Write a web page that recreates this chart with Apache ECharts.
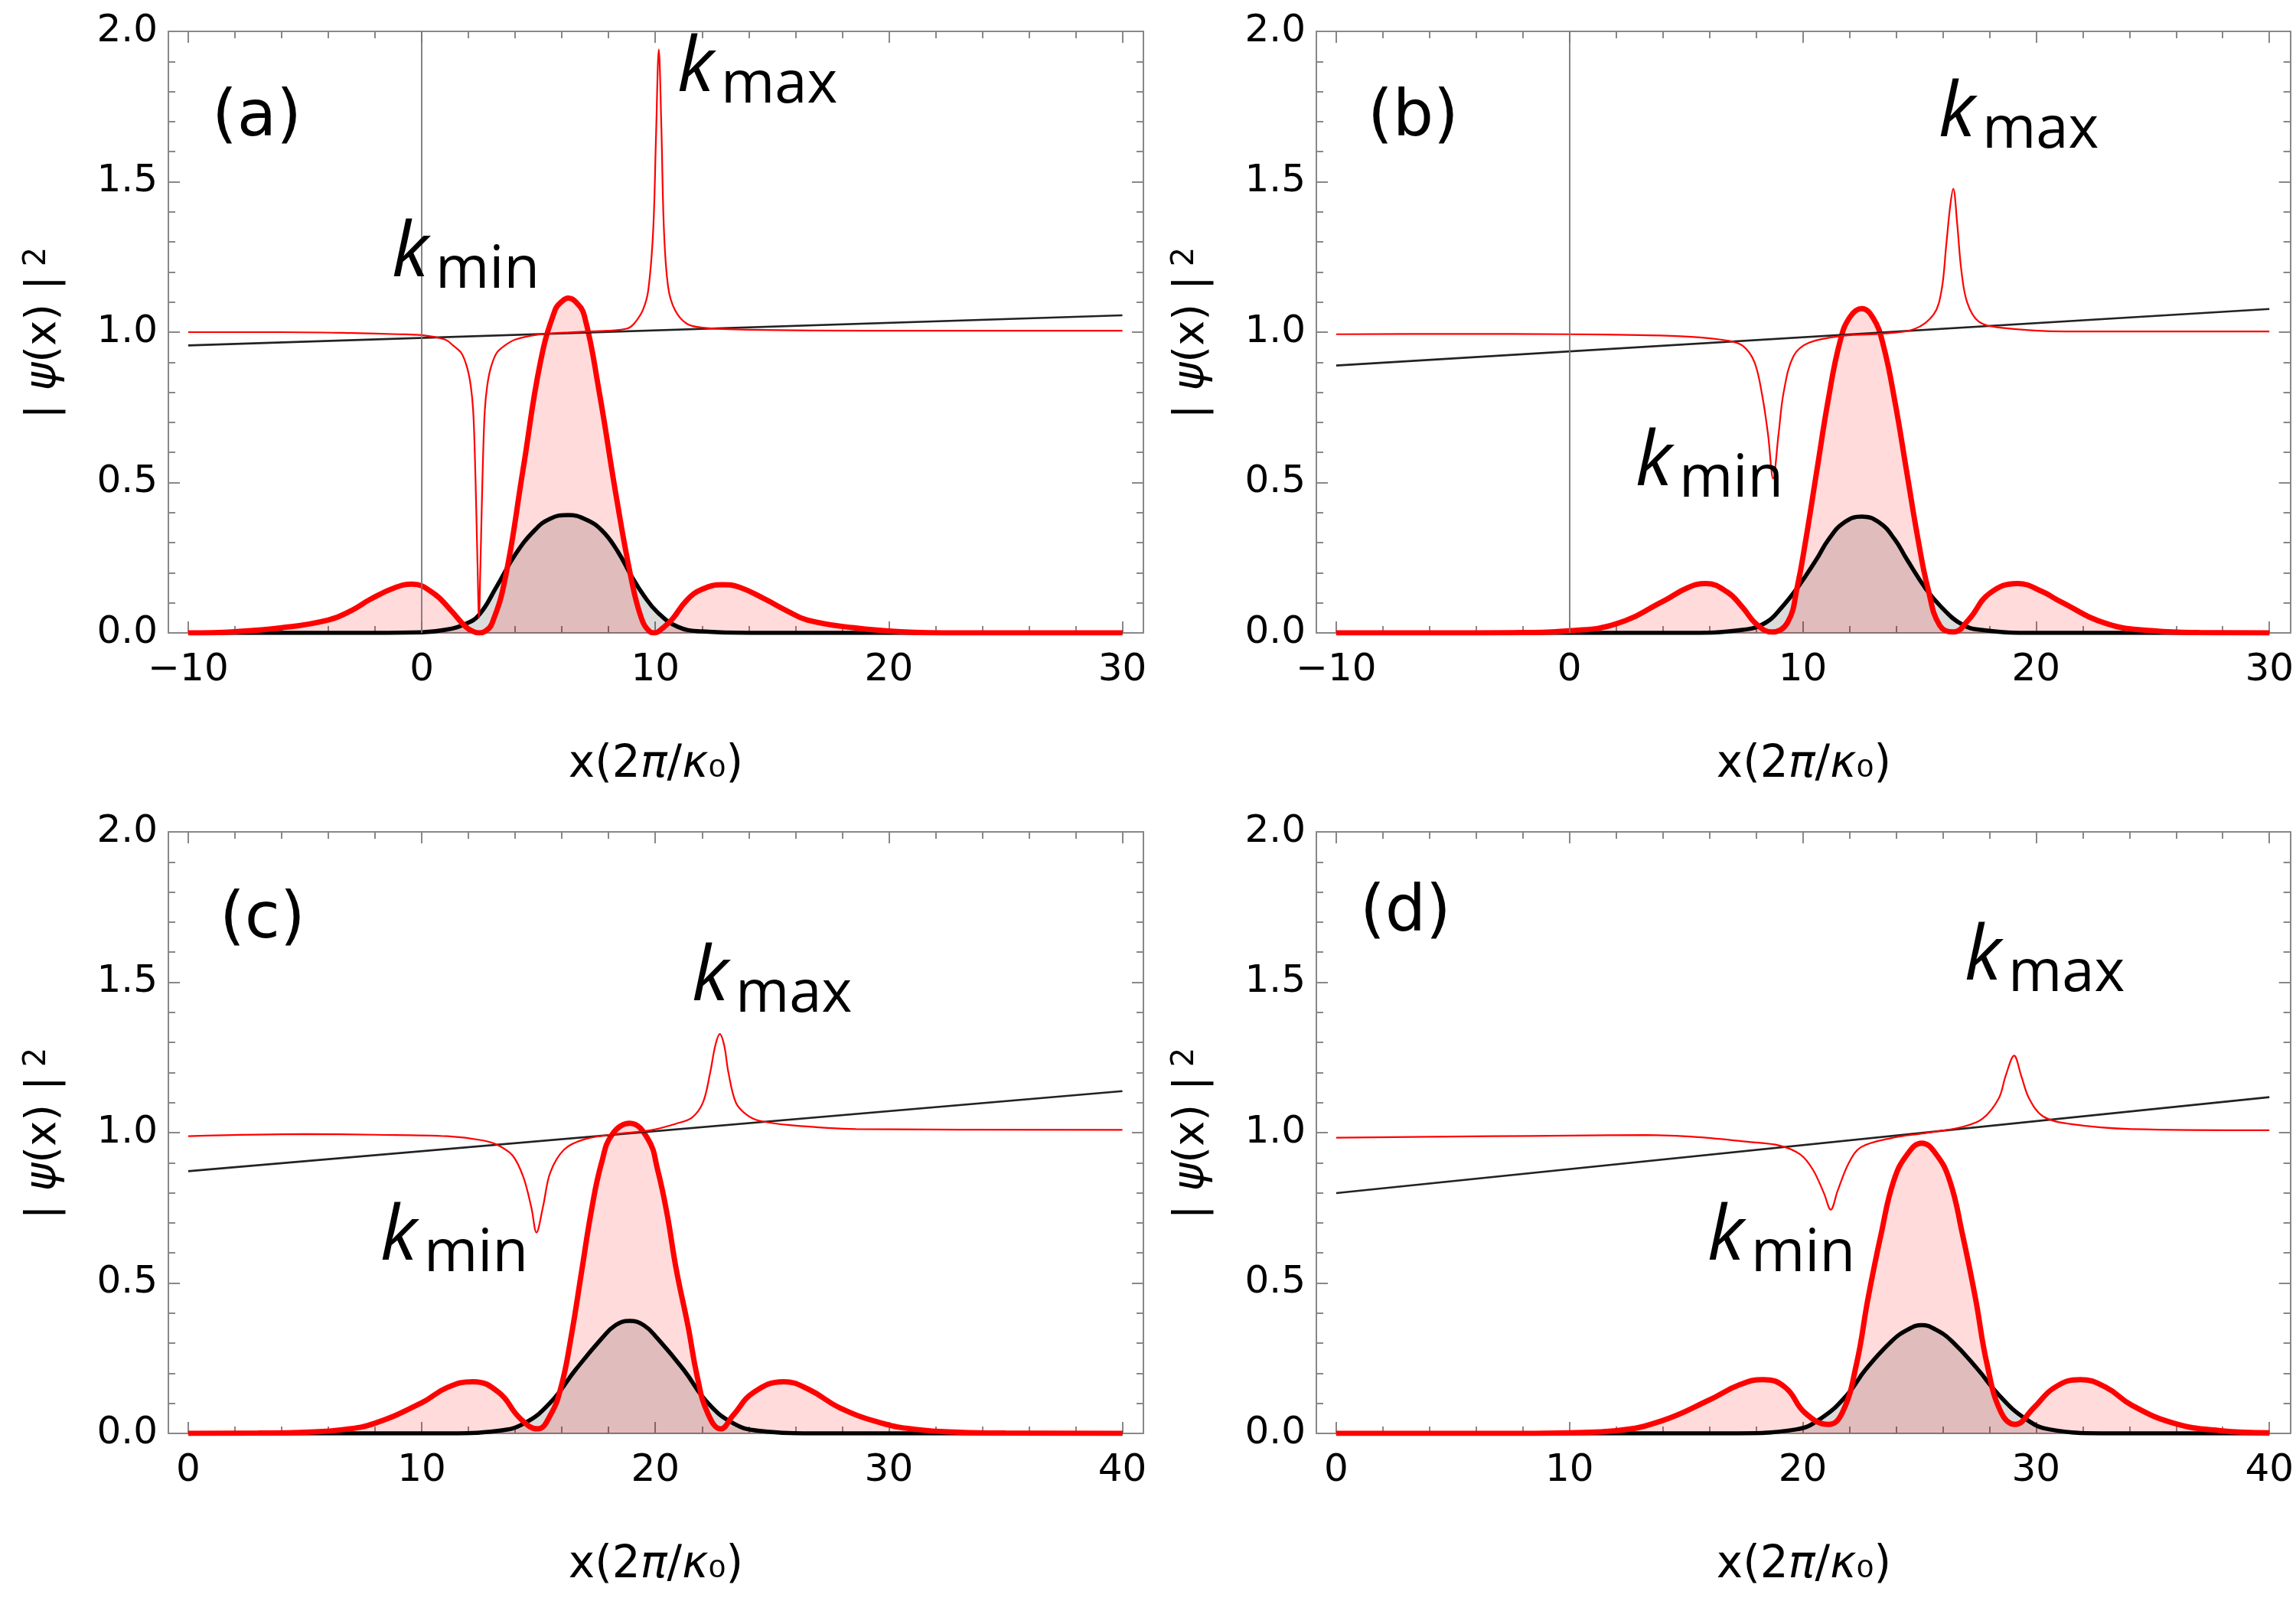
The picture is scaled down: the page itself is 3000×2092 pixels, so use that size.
<!DOCTYPE html>
<html>
<head>
<meta charset="utf-8">
<script src="https://cdn.jsdelivr.net/npm/echarts@6/dist/echarts.min.js"></script>
<style>
  html, body { margin: 0; padding: 0; background: #fff; }
  #main { width: 3000px; height: 2092px; }
</style>
</head>
<body>
<div id="main"></div>
<script>
// ---- data ----
// (a)
var kLocA = [[-10,1.0],[-6,1.0],[-3,0.997],[-1,0.993],[0,0.99],[1.0,0.975],[1.35,0.955],[1.7,0.93],[1.95,0.88],
  [2.1,0.82],[2.2,0.74],[2.27,0.6],[2.33,0.42],[2.39,0.22],[2.45,0.05],[2.51,0.22],[2.57,0.42],[2.63,0.6],[2.7,0.74],
  [2.8,0.82],[2.95,0.88],[3.2,0.93],[3.55,0.955],[4,0.975],[5,0.992],[6.5,1.0],[8,1.005],[8.8,1.012],[9.09,1.028],
  [9.47,1.074],[9.7,1.14],[9.91,1.34],[10.03,1.65],[10.15,1.94],[10.26,1.68],[10.37,1.34],[10.55,1.15],[10.84,1.074],
  [11.35,1.028],[12,1.015],[14,1.008],[20,1.005],[30,1.005]];
var psiA = [[-10,0],[-8,0.004],[-6,0.017],[-4,0.043],[-3,0.075],[-2.2,0.112],[-1.1,0.152],[-0.41,0.162],[0.5,0.132],
  [1.27,0.073],[1.87,0.021],[2.2,0.005],[2.45,0],[2.7,0.005],[3.0,0.03],[3.57,0.18],[4.33,0.54],[5.08,0.9],[5.71,1.074],
  [6.0,1.102],[6.27,1.113],[6.6,1.1],[6.96,1.055],[7.59,0.805],[8.34,0.448],[8.97,0.18],[9.4,0.05],[9.75,0.005],[9.97,0],
  [10.3,0.015],[10.72,0.045],[11.35,0.109],[12.0,0.145],[12.9,0.16],[13.6,0.152],[14.7,0.112],[15.6,0.075],[16.5,0.043],
  [18.5,0.017],[20.5,0.004],[23,0],[30,0]];
var psi0A = [[-10,0],[-2,0],[0,0.002],[1,0.01],[1.82,0.028],[2.45,0.06],[3.2,0.153],[4.0,0.26],[4.83,0.341],[5.5,0.38],
  [6.27,0.392],[7.0,0.378],[7.71,0.341],[8.4,0.27],[8.97,0.19],[9.5,0.125],[10.1,0.068],[10.97,0.02],[12,0.005],[14,0],[30,0]];
var lineA = [[-10,0.956],[30,1.056]];

// (b)
var kLocB = [[-10,0.993],[-5,0.994],[0,0.993],[3,0.99],[5.08,0.985],[6.76,0.972],[7.42,0.955],[7.93,0.9],[8.26,0.79],
  [8.51,0.66],[8.73,0.513],[8.96,0.66],[9.18,0.8],[9.6,0.92],[10.27,0.965],[11.77,0.988],[13.44,0.995],[14.78,1.01],
  [15.62,1.06],[15.95,1.14],[16.15,1.29],[16.32,1.42],[16.45,1.477],[16.62,1.36],[16.79,1.21],[17.04,1.1],[17.54,1.035],
  [18.46,1.015],[21.3,1.002],[25,1.002],[30,1.002]];
var psiB = [[-10,0],[-4,0],[-2,0.001],[0,0.007],[2,0.03],[4.03,0.106],[5.08,0.151],[5.84,0.164],[6.76,0.136],[7.42,0.085],
  [8.0,0.03],[8.68,0.003],[9.35,0.035],[9.77,0.156],[10.1,0.296],[10.6,0.538],[11.1,0.779],[11.6,0.97],[12.02,1.05],
  [12.53,1.078],[13.03,1.045],[13.44,0.96],[13.95,0.769],[14.45,0.538],[14.95,0.307],[15.37,0.146],[15.87,0.025],
  [16.45,0.003],[17.12,0.045],[18.0,0.131],[19.21,0.164],[20.3,0.136],[21.0,0.106],[23.05,0.03],[25.05,0.007],[27,0.001],[30,0]];
var psi0B = [[-10,0],[5,0],[7.42,0.01],[8.43,0.035],[9.1,0.085],[9.77,0.15],[10.6,0.246],[11.1,0.31],[11.77,0.367],
  [12.53,0.387],[13.28,0.367],[13.95,0.31],[14.45,0.246],[15.28,0.146],[15.95,0.085],[16.79,0.03],[17.63,0.01],[20,0],[30,0]];
var lineB = [[-10,0.889],[30,1.077]];

// (c)
var kLocC = [[0,0.988],[5,0.995],[8,0.993],[11.1,0.988],[12.63,0.974],[13.3,0.957],[13.9,0.923],[14.36,0.85],[14.7,0.748],
  [14.91,0.668],[15.2,0.757],[15.5,0.867],[16.1,0.944],[16.97,0.978],[18.3,0.995],[19.8,1.008],[20.9,1.03],[21.57,1.05],
  [22.04,1.1],[22.35,1.2],[22.57,1.29],[22.76,1.328],[22.95,1.29],[23.13,1.2],[23.45,1.1],[23.9,1.06],[24.43,1.04],
  [25.75,1.025],[28.6,1.012],[40,1.009]];
var psiC = [[0,0],[3,0.001],[5,0.004],[6.67,0.013],[8,0.034],[10,0.102],[11.1,0.153],[12.2,0.172],[13.3,0.136],[14.2,0.051],
  [14.96,0.015],[15.5,0.06],[15.96,0.153],[16.4,0.323],[16.84,0.536],[17.28,0.748],[17.7,0.9],[18.16,0.995],[18.9,1.031],
  [19.69,0.978],[20.1,0.876],[20.5,0.731],[20.9,0.544],[21.4,0.357],[21.8,0.187],[22.24,0.068],[22.8,0.015],[23.33,0.06],
  [24.2,0.136],[25.5,0.172],[26.6,0.145],[27.9,0.085],[29.7,0.034],[31.2,0.013],[33,0.004],[35,0.001],[40,0]];
var psi0C = [[0,0],[11,0],[13.3,0.009],[14.4,0.034],[15.5,0.102],[16.6,0.213],[17.7,0.315],[18.3,0.36],[18.9,0.374],
  [19.5,0.36],[20.1,0.315],[21.2,0.213],[22.24,0.102],[23.33,0.034],[24.4,0.009],[27,0],[40,0]];
var lineC = [[0,0.872],[40,1.138]];

// (d)
var kLocD = [[0,0.983],[6.67,0.988],[10,0.99],[13.3,0.992],[15.5,0.985],[17.7,0.969],[19.0,0.957],[19.9,0.927],[20.44,0.876],
  [20.9,0.8],[21.2,0.744],[21.5,0.808],[21.98,0.9],[22.5,0.952],[23.8,0.982],[25.3,0.999],[26.84,1.019],[27.7,1.046],
  [28.4,1.114],[28.7,1.19],[29.06,1.256],[29.36,1.19],[29.7,1.114],[30.3,1.054],[31.45,1.029],[34.1,1.012],[40,1.008]];
var psiD = [[0,0],[8,0],[10,0.002],[12,0.009],[14,0.043],[15.96,0.11],[17.3,0.162],[18.3,0.179],[19.25,0.153],[20.1,0.068],
  [21.1,0.03],[21.7,0.07],[22.3,0.23],[22.8,0.45],[23.35,0.66],[23.9,0.84],[24.5,0.93],[25.1,0.965],[25.7,0.93],[26.3,0.84],
  [26.85,0.66],[27.4,0.45],[27.9,0.23],[28.5,0.07],[29.1,0.03],[29.9,0.085],[30.8,0.153],[31.9,0.179],[33.0,0.153],
  [34.1,0.094],[35.9,0.034],[37.9,0.009],[40,0.002]];
var psi0D = [[0,0],[17,0],[19.7,0.013],[20.8,0.051],[21.9,0.128],[22.7,0.213],[23.8,0.306],[24.5,0.345],[25.1,0.36],
  [25.7,0.345],[26.4,0.306],[27.5,0.213],[28.4,0.128],[29.5,0.051],[30.6,0.013],[33,0],[40,0]];
var lineD = [[0,0.799],[40,1.118]];

// ticks
var xMajorAB = [-10, 0, 10, 20, 30];
var xMinorAB = [-8, -6, -4, -2, 2, 4, 6, 8, 12, 14, 16, 18, 22, 24, 26, 28];
var xMajorCD = [0, 10, 20, 30, 40];
var xMinorCD = [2, 4, 6, 8, 12, 14, 16, 18, 22, 24, 26, 28, 32, 34, 36, 38];
var panelLabels = ['(a)', '(b)', '(c)', '(d)'];

// ---- layout ----
var FRAME = '#888';
var FONT = 'DejaVu Sans';
var panels = [
  { left: 220,  top: 41,   min: -10.85, max: 30.9, major: xMajorAB, minor: xMinorAB, kLoc: kLocA, psi: psiA, psi0: psi0A, line: lineA, zero: true,
    lab: [277, 155], kmax: [885, 128], kmin: [512, 370] },
  { left: 1720, top: 41,   min: -10.85, max: 30.9, major: xMajorAB, minor: xMinorAB, kLoc: kLocB, psi: psiB, psi0: psi0B, line: lineB, zero: true,
    lab: [1787, 155], kmax: [2533, 187], kmin: [2137, 643] },
  { left: 220,  top: 1087, min: -0.85, max: 40.9, major: xMajorCD, minor: xMinorCD, kLoc: kLocC, psi: psiC, psi0: psi0C, line: lineC, zero: false,
    lab: [287, 1203], kmax: [904, 1316], kmin: [497, 1655] },
  { left: 1720, top: 1087, min: -0.85, max: 40.9, major: xMajorCD, minor: xMinorCD, kLoc: kLocD, psi: psiD, psi0: psi0D, line: lineD, zero: false,
    lab: [1777, 1194], kmax: [2567, 1289], kmin: [2231, 1655] }
];
var W = 1274, H = 786;

function xFmt(v) { return v < 0 ? '\u2212' + (-v) : String(v); }

var grid = [], xAxis = [], yAxis = [], series = [], graphic = [];

panels.forEach(function (p, i) {
  grid.push({ left: p.left, top: p.top, width: W, height: H });

  var lineSt = { color: FRAME, width: 2 };
  function xa(pos, vals, len, showLine, showLabel) {
    return {
      gridIndex: i, type: 'value', min: p.min, max: p.max, position: pos,
      axisLine: { show: showLine, onZero: false, lineStyle: lineSt },
      axisTick: { show: true, inside: true, length: len, customValues: vals, lineStyle: lineSt },
      axisLabel: { show: showLabel, customValues: vals, formatter: xFmt, fontSize: 50, fontFamily: FONT, color: '#000', margin: 24 },
      splitLine: { show: false }
    };
  }
  xAxis.push(xa('bottom', p.major, 15, true, true));
  xAxis.push(xa('bottom', p.minor, 9, false, false));
  xAxis.push(xa('top', p.major, 15, true, false));
  xAxis.push(xa('top', p.minor, 9, false, false));

  function ya(pos, showLabel) {
    return {
      gridIndex: i, type: 'value', min: 0, max: 2, interval: 0.5, position: pos,
      axisLine: { show: true, onZero: false, lineStyle: lineSt },
      axisTick: { show: true, inside: true, length: 15, lineStyle: lineSt },
      minorTick: { show: true, splitNumber: 5, length: 9, lineStyle: lineSt },
      axisLabel: { show: showLabel, formatter: function (v) { return v.toFixed(1); }, fontSize: 50, fontFamily: FONT, color: '#000', margin: 14 },
      splitLine: { show: false }, minorSplitLine: { show: false }
    };
  }
  yAxis.push(ya('left', true));
  yAxis.push(ya('right', false));

  var xi = 4 * i, yi = 2 * i;
  series.push({
    type: 'line', xAxisIndex: xi, yAxisIndex: yi, data: p.psi0, showSymbol: false, smooth: 0.45,
    lineStyle: { color: '#000', width: 5.5 }, areaStyle: { color: 'rgba(0,0,0,0.2)' }
  });
  series.push({
    type: 'line', xAxisIndex: xi, yAxisIndex: yi, data: p.psi, showSymbol: false, smooth: 0.45,
    lineStyle: { color: '#ff0000', width: 7 }, areaStyle: { color: 'rgba(255,0,0,0.2)' }
  });
  var ln = {
    type: 'line', xAxisIndex: xi, yAxisIndex: yi, data: p.line, showSymbol: false,
    lineStyle: { color: '#222', width: 2.7 }
  };
  if (p.zero) {
    ln.markLine = {
      silent: true, symbol: 'none', label: { show: false },
      lineStyle: { color: '#777', width: 1.8, type: 'solid' },
      data: [{ xAxis: 0 }]
    };
  }
  series.push(ln);
  series.push({
    type: 'line', xAxisIndex: xi, yAxisIndex: yi, data: p.kLoc, showSymbol: false, smooth: 0.35,
    lineStyle: { color: '#ff0000', width: 2.2 }
  });

  // panel letter
  graphic.push({ type: 'text', x: p.lab[0], y: p.lab[1], z: 100,
    style: { text: panelLabels[i], fontSize: 84, fontFamily: FONT, fill: '#000', align: 'left', verticalAlign: 'middle' } });
  // k labels
  [['max', p.kmax], ['min', p.kmin]].forEach(function (k) {
    var x = k[1][0], base = k[1][1];
    graphic.push({ type: 'text', x: x, y: base - 0.38 * 98, z: 100,
      style: { text: 'k', fontSize: 98, fontStyle: 'italic', fontFamily: 'Open Sans', fill: '#000', align: 'left', verticalAlign: 'middle' } });
    graphic.push({ type: 'text', x: x + 57, y: base + 13 - 0.38 * 76, z: 100,
      style: { text: k[0], fontSize: 76, fontFamily: 'Open Sans', fill: '#000', align: 'left', verticalAlign: 'middle' } });
  });
  // axis titles
  graphic.push({ type: 'text', x: p.left + W / 2, y: p.top + 959, z: 100,
    style: {
      text: '{n|x(2}{i|\u03c0}{n|/}{i|\u03ba}{n|\u2080)}', align: 'center', verticalAlign: 'middle',
      rich: {
        n: { fontSize: 58, fontFamily: FONT, fill: '#000' },
        i: { fontSize: 58, fontFamily: FONT, fontStyle: 'italic', fill: '#000' }
      }
    } });
  graphic.push({ type: 'text', x: p.left - 163, y: p.top + 394, rotation: Math.PI / 2, z: 100,
    style: {
      text: '{n|| }{i|\u03c8}{n|(x) |}{p|2}', align: 'center', verticalAlign: 'middle',
      rich: {
        n: { fontSize: 56, fontFamily: FONT, fill: '#000' },
        i: { fontSize: 56, fontFamily: FONT, fontStyle: 'italic', fill: '#000' },
        p: { fontSize: 40, fontFamily: FONT, fill: '#000', verticalAlign: 'top', lineHeight: 34, padding: [0, 0, 0, 12] }
      }
    } });
});

var myChart = echarts.init(document.getElementById('main'));
myChart.setOption({
  animation: false,
  backgroundColor: '#fff',
  grid: grid,
  xAxis: xAxis,
  yAxis: yAxis,
  series: series,
  graphic: graphic
});
</script>
</body>
</html>
